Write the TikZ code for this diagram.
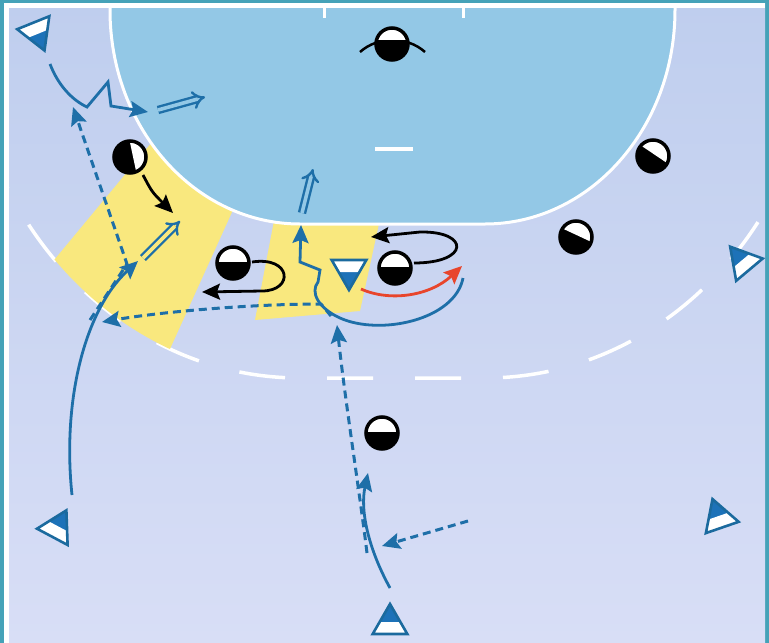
\documentclass[tikz,border=0pt]{standalone}
\usetikzlibrary{arrows.meta,shapes.geometric,calc}
\definecolor{teal0}{HTML}{45A2B8}
\definecolor{bgtop}{HTML}{BFCEEE}
\definecolor{bgbot}{HTML}{D8DEF6}
\definecolor{goal}{HTML}{93C8E6}
\definecolor{yel}{HTML}{F9E87E}
\definecolor{tblue}{HTML}{1D72B8}
\definecolor{tline}{HTML}{1B6A9E}
\definecolor{lblue}{HTML}{1E6FA8}
\definecolor{red0}{HTML}{E8452C}
\newcommand\attk[1]{%
  \fill[white] (#1.corner 2) -- (#1.corner 3) -- ($(#1.corner 3)!0.4!(#1.corner 1)$) -- ($(#1.corner 2)!0.4!(#1.corner 1)$) -- cycle;
  \draw[tline, line width=2.6pt] (#1.corner 1) -- (#1.corner 2) -- (#1.corner 3) -- cycle;}
\tikzset{
  bigtip/.tip={Stealth[length=18pt,width=16pt,inset=3pt]},
  dbltip/.tip={Implies[length=11pt,width=24pt]}
}
\begin{document}
\begin{tikzpicture}[x=1pt,y=-1pt,
  defp/.style n args={2}{circle, fill=black, draw=black, line width=3.5pt, minimum size=32pt, inner sep=0pt,
    path picture={\fill[white]
      ($(path picture bounding box.center)+(#1:#2)+(#1+90:30pt)$) --
      ($(path picture bounding box.center)+(#1:30pt)+(#1+90:30pt)$) --
      ($(path picture bounding box.center)+(#1:30pt)+(#1-90:30pt)$) --
      ($(path picture bounding box.center)+(#1:#2)+(#1-90:30pt)$) -- cycle;}},
  att/.style={regular polygon, regular polygon sides=3, minimum size=40pt, inner sep=0pt, outer sep=0pt, fill=tblue, shape border rotate=#1},
  run/.style={lblue, line width=2.8pt, -bigtip},
  pass/.style={lblue, line width=3pt, dash pattern=on 8pt off 5pt, -bigtip},
  redrun/.style={red0, line width=2.8pt, -bigtip},
  blk/.style={black, line width=2.8pt, -bigtip},
  dbl/.style={lblue, double=#1, double distance=3.6pt, line width=2.4pt, -dbltip},
  nine/.style={white, line width=3.5pt, dash pattern=on 46pt off 42pt, dash phase=23pt}
]
\useasboundingbox (0,0) rectangle (769,643);
% frame and background
\fill[teal0] (0,0) rectangle (769,643);
\shade[top color=bgtop, bottom color=bgbot] (4,3) rectangle (765,643);
\begin{scope}
\clip (4,3) rectangle (765,643);
% 9 m line
\draw[nine] (350,378) -- (485,378) arc[start angle=90,end angle=0,x radius=334,y radius=368];
\draw[nine] (350,378) -- (300,378) arc[start angle=90,end angle=180,x radius=334,y radius=368];
% left yellow zone (between 6 m and 9 m lines)
\begin{scope}
  \clip (-34,10) arc[start angle=180,end angle=90,x radius=334,y radius=368] -- (485,378)
        arc[start angle=90,end angle=0,x radius=334,y radius=368] -- cycle;
  \fill[yel] (40,277) -- (172,118) -- (252,168) -- (165,360) -- cycle;
\end{scope}
% middle yellow zone
\fill[yel] (277,205) -- (382,210) -- (360,311) -- (255,320) -- cycle;
% goal area
\fill[goal] (110,8) -- (110,10) arc[start angle=180,end angle=90,x radius=190,y radius=214] -- (485,224)
      arc[start angle=90,end angle=0,x radius=190,y radius=214] -- (675,8) -- cycle;
\draw[white, line width=3pt] (110,8) -- (110,10) arc[start angle=180,end angle=90,x radius=190,y radius=214] -- (485,224)
      arc[start angle=90,end angle=0,x radius=190,y radius=214] -- (675,8);
\end{scope}
% court lines
\draw[white, line width=5pt] (6.5,3) -- (6.5,643);
\draw[white, line width=5pt] (4,5.5) -- (765,5.5);
\draw[white, line width=3pt] (324,5) -- (324,18);
\draw[white, line width=3pt] (463,5) -- (463,18);
\draw[white, line width=3.5pt] (375,149) -- (413,149);
% movements
\draw[run] (390,588) .. controls (368,548) and (360,510) .. (368,473);
\draw[pass] (468,521) -- (382,546);
\draw[pass] (367,553) .. controls (360,495) and (345,400) .. (337,325);
\draw[pass] (331,316) -- (321,304) .. controls (250,304) and (160,312) .. (102,322);
\draw[pass] (90,320) -- (127,264) -- (73,107);
\draw[run] (72,495) .. controls (62,400) and (85,310) .. (138,261);
\draw[dbl=yel] (143,258) -- (180,221);
\draw[run] (50,64) .. controls (58,85) and (72,100) .. (87,107) -- (108,82) -- (111,106) -- (148,112);
\draw[dbl=goal] (158,110) -- (205,97);
\draw[run] (463,278) .. controls (455,320) and (380,336) .. (340,318) .. controls (318,308) and (310,292) .. (318,282) -- (320,270) -- (300,262) -- (301,225);
\draw[dbl=goal] (302,213) -- (313,169);
\draw[redrun] (361,289) .. controls (390,302) and (430,296) .. (462,266);
\draw[blk] (143,175) .. controls (152,192) .. (173,213);
\draw[blk] (252,262) .. controls (292,256) and (294,291) .. (262,291) -- (202,292);
\draw[blk] (414,263) .. controls (470,263) and (470,231) .. (420,232) -- (371,237);
% goalkeeper arms
\draw[black, line width=2.5pt] (360,52) .. controls (378,36) and (407,36) .. (425,52);
% defenders
\node[defp={90}{4pt}] (gk) at (392,44) {};
\node[defp={12}{3pt}] (d1) at (130,157) {};
\node[defp={56}{2pt}] (d2) at (653,156) {};
\node[defp={65}{2pt}] (d3) at (576,237) {};
\node[defp={90}{1pt}] (d4) at (233,263) {};
\node[defp={90}{1pt}] (d5) at (395,268) {};
\node[defp={90}{1pt}] (d6) at (382,433) {};
% attackers
\node[att=-158] (a1) at (37,32) {}; \attk{a1}
\node[att=40] (a2) at (743,262) {}; \attk{a2}
\node[att=-28] (a3) at (57,528) {}; \attk{a3}
\node[att=19] (a4) at (719,518) {}; \attk{a4}
\node[att=0] (a5) at (390,624) {}; \attk{a5}
\node[att=180] (a6) at (349,270) {}; \attk{a6}
\end{tikzpicture}
\end{document}
